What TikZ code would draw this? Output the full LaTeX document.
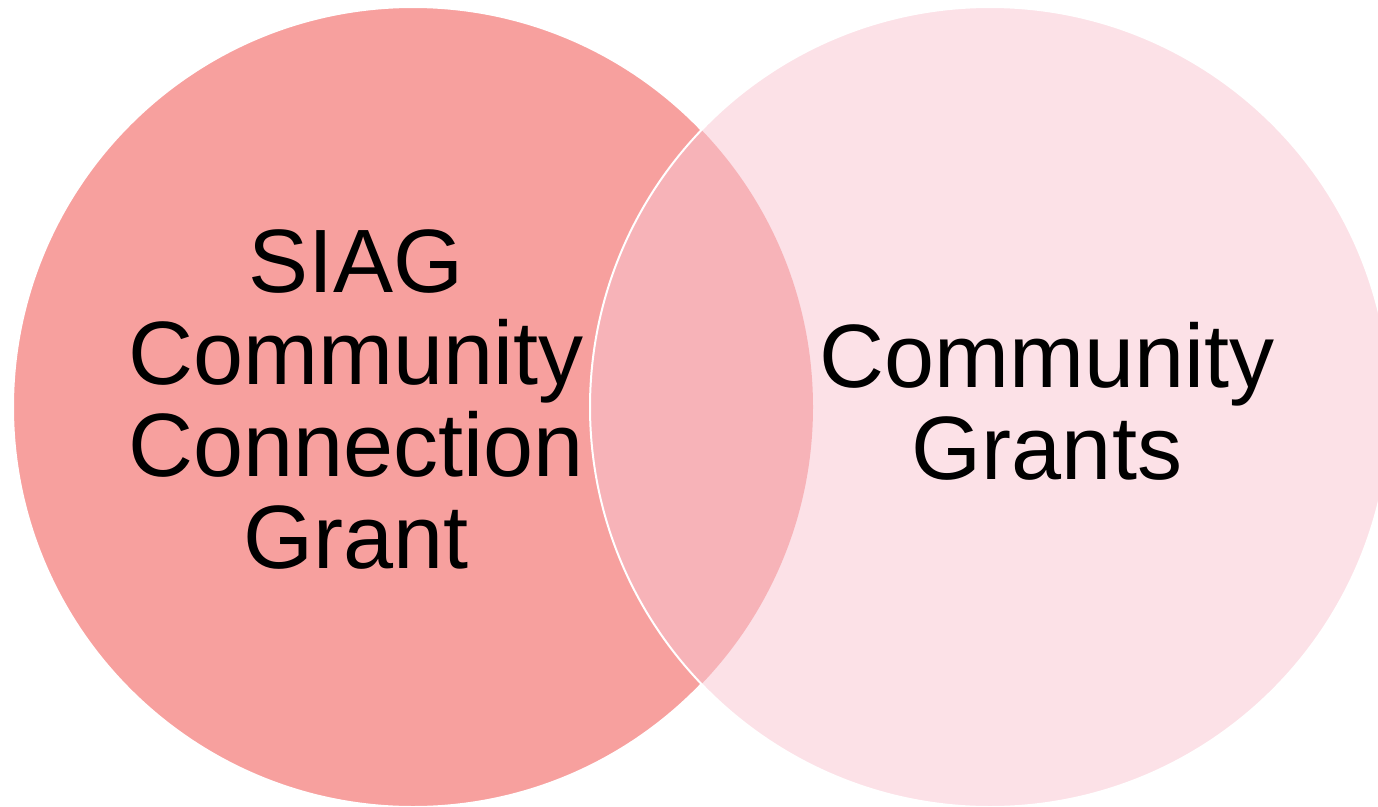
\documentclass[tikz,border=0pt]{standalone}
\usepackage{fontspec}
\setmainfont{Liberation Sans}
\definecolor{leftfill}{RGB}{247,160,158}
\definecolor{rightfill}{RGB}{252,225,231}
\definecolor{overlapfill}{RGB}{247,179,184}
\begin{document}
\begin{tikzpicture}[x=1pt,y=-1pt,
  label text/.style={inner sep=0pt, align=center, anchor=north, text=black,
    font=\fontsize{90}{92}\selectfont}]
\useasboundingbox (0,0) rectangle (1378,806);
\coordinate (lc) at (413,407);
\coordinate (rc) at (990,407);
% left circle
\fill[leftfill] (lc) circle[radius=400];
\draw[white, line width=2pt] (lc) circle[radius=400];
% right circle
\fill[rightfill] (rc) circle[radius=400];
% overlap
\begin{scope}
  \clip (lc) circle[radius=400];
  \fill[overlapfill] (rc) circle[radius=400];
\end{scope}
\draw[white, line width=2pt] (rc) circle[radius=400];
% texts
\node[label text] (siag) at (356,229) {SIAG\\Community\\Connection\\Grant};
\node[label text] (cg) at (1047,322) {Community\\Grants};
\end{tikzpicture}
\end{document}
